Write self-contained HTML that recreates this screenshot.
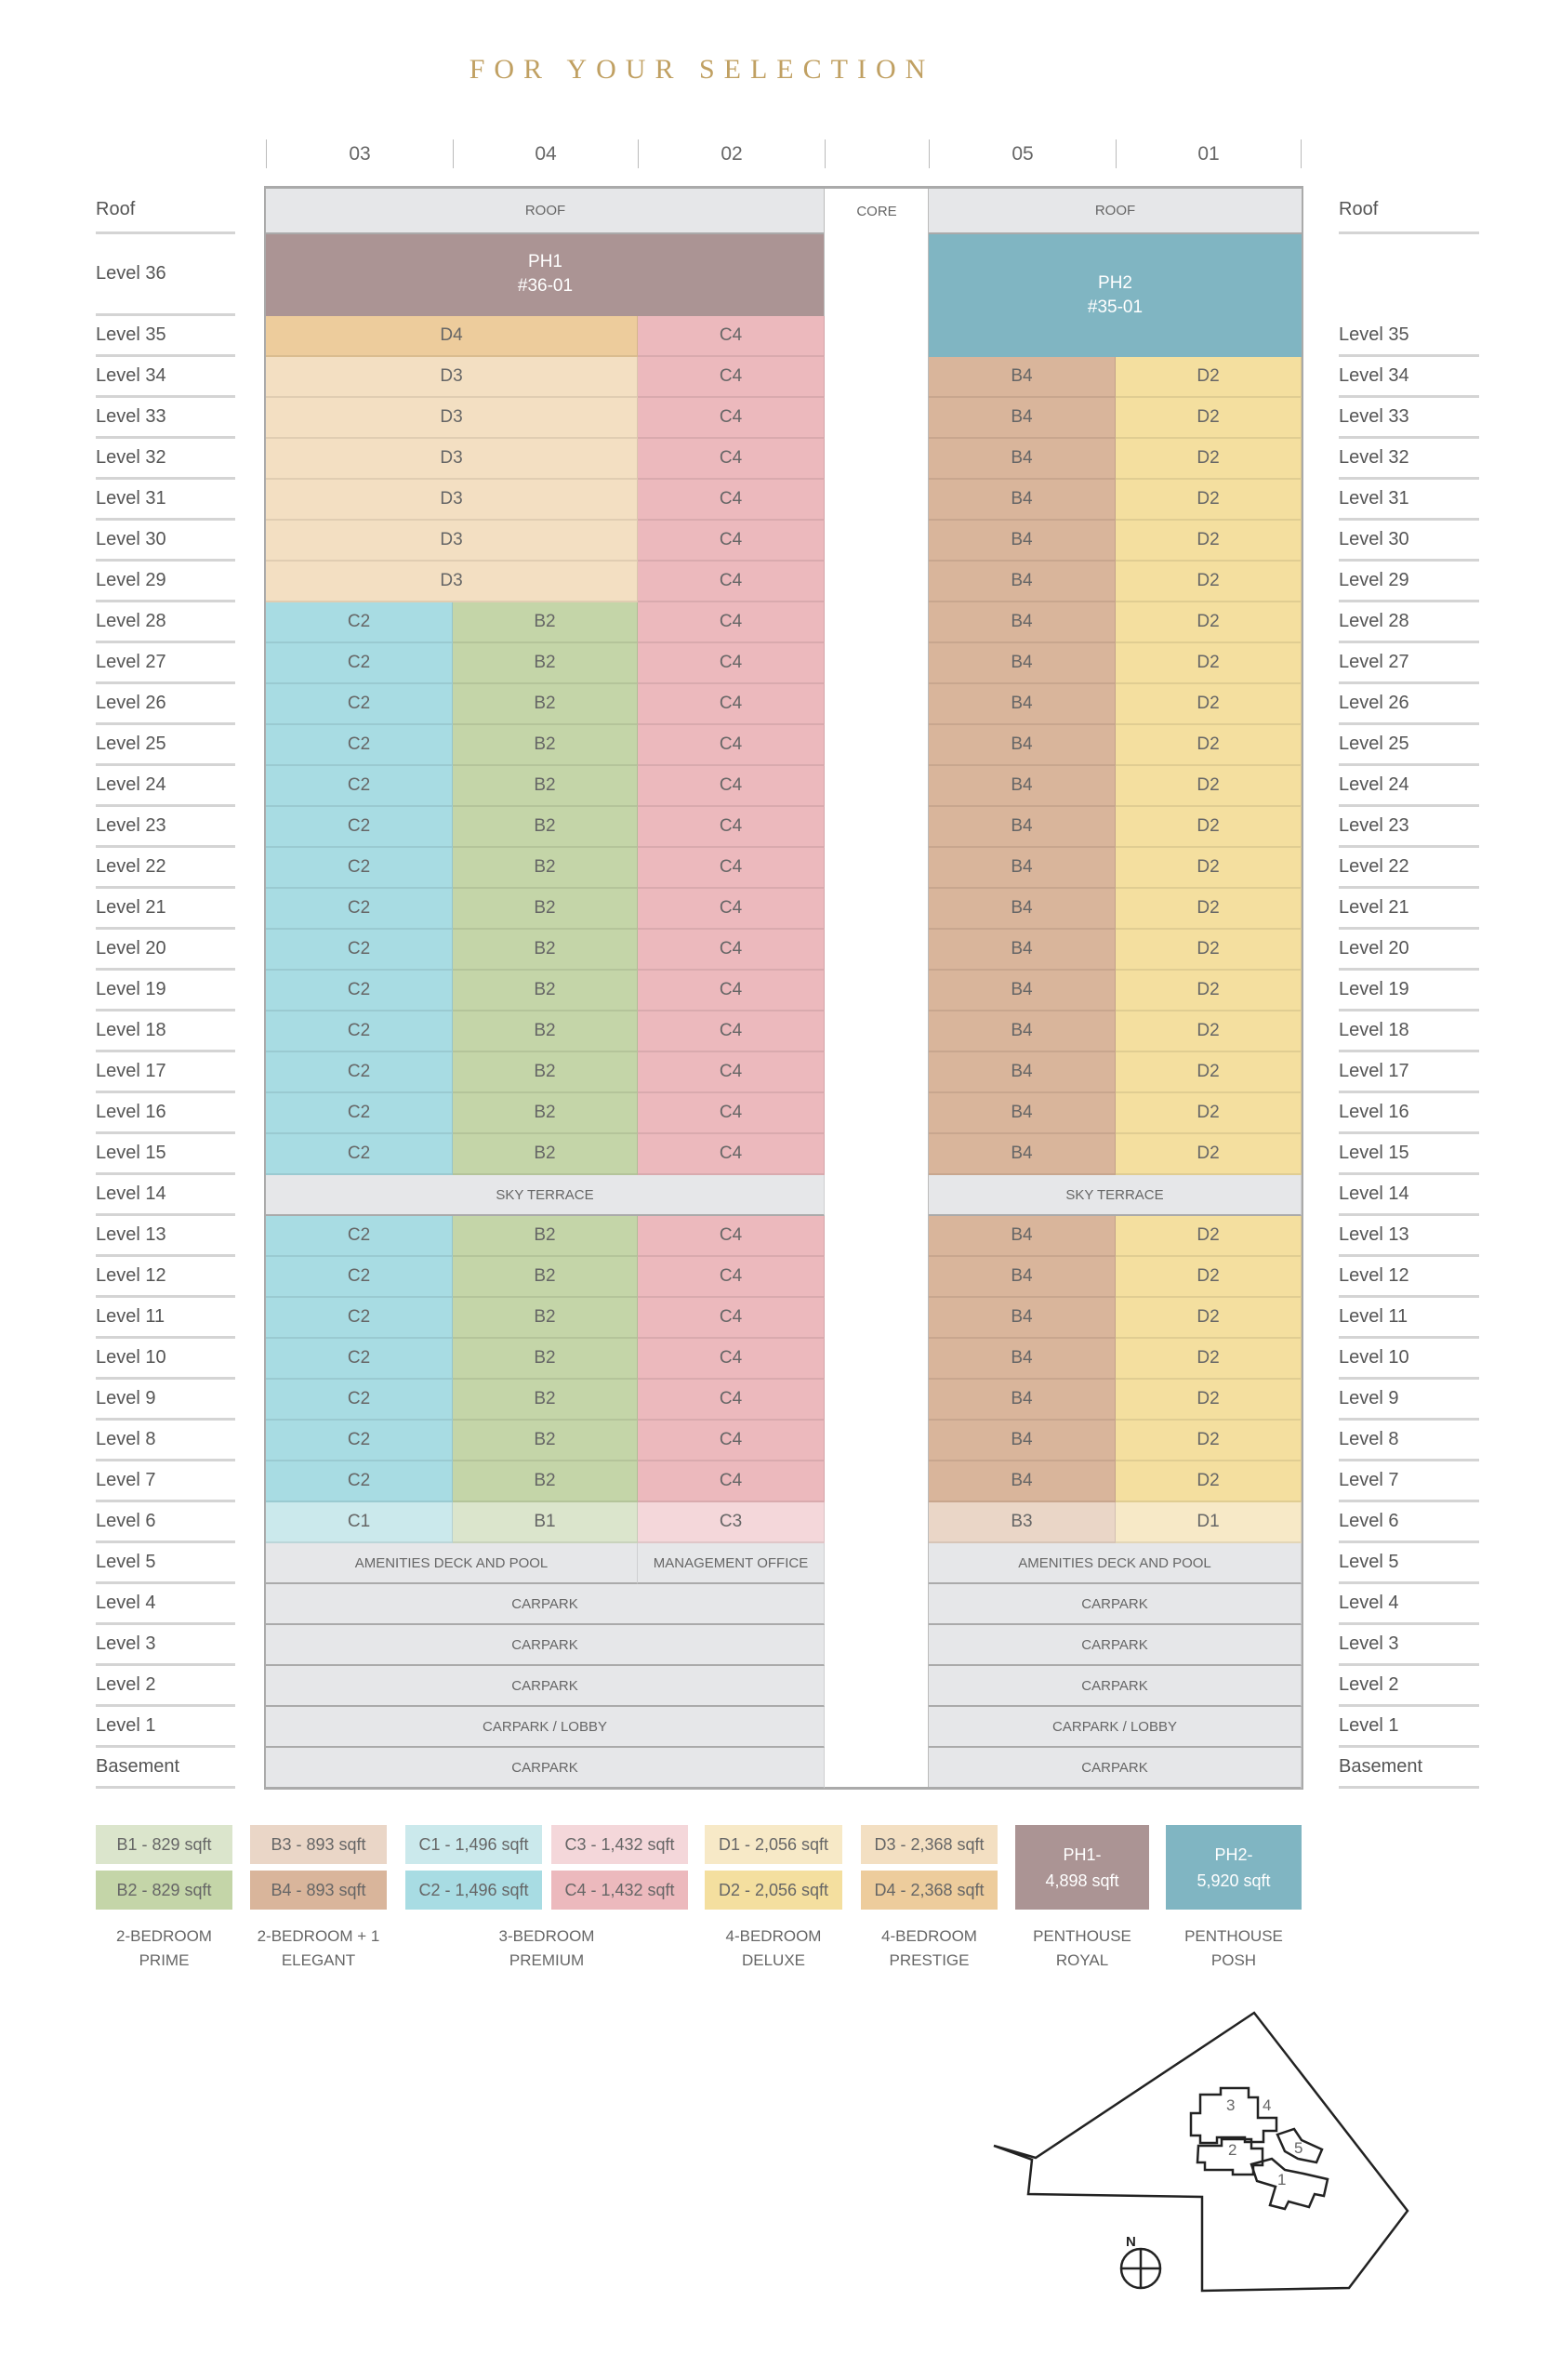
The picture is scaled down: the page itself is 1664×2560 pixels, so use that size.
<!DOCTYPE html>
<html><head><meta charset="utf-8"><style>
*{margin:0;padding:0;box-sizing:border-box}
body{width:1664px;height:2560px;background:#fff;position:relative;font-family:"Liberation Sans Narrow","Liberation Sans",sans-serif;color:#555;overflow:hidden}
.a{position:absolute}
.t{position:absolute;top:58px;left:0;width:1510px;text-align:center;font-family:"Liberation Serif",serif;font-size:30px;letter-spacing:10px;color:#c0a062}
.w{position:absolute;left:0;top:3px;width:1664px;height:2000px}
.hd{position:absolute;top:147px;height:31px;border-left:1px solid #bbb;font-size:21px;color:#666;text-align:center;line-height:31px}
.lb{position:absolute;left:103px;width:150px;border-bottom:3px solid #d4d4d4;font-size:20px;display:flex;align-items:center;color:#555}
.rb{position:absolute;left:1440px;width:151px;border-bottom:3px solid #d4d4d4;font-size:20px;display:flex;align-items:center;color:#555}
.g{position:absolute;display:grid;grid-auto-rows:44px}
.g i{font-style:normal;display:flex;align-items:center;justify-content:center;font-size:19px;color:#666;border-bottom:2px solid rgba(0,0,0,.08);border-right:1px solid rgba(0,0,0,.1)}
.L{grid-template-columns:201px 199px 201px;left:286px;width:601px}
.R{grid-template-columns:201px 200px;left:999px;width:401px}
.s{grid-column:1/-1}.s2{grid-column:1/3}
.gr{background:#e6e7e9;font-size:15px!important;color:#666!important;border-bottom:2px solid #aaa!important}
.D4{background:#edcc9c}.D3{background:#f3dfc2}.C4{background:#ecb9bd}.B4{background:#d9b59b}.D2{background:#f4df9f}.C2{background:#a8dce3}.B2{background:#c4d5a8}.C1{background:#cbe9ec}.B1{background:#dbe5cc}.C3{background:#f4d7da}.B3{background:#ead6c7}.D1{background:#f7e9c7}
.lg{position:absolute;height:42px;display:flex;align-items:center;justify-content:center;font-size:18px;color:#666}
.lt{position:absolute;top:2070px;text-align:center;font-size:17px;color:#666;line-height:26px}
</style></head><body>
<div class="t">FOR YOUR SELECTION</div>
<div class="w">
<div class="hd" style="left:286px;width:201px">03</div>
<div class="hd" style="left:487px;width:199px">04</div>
<div class="hd" style="left:686px;width:201px">02</div>
<div class="hd" style="left:887px;width:112px"></div>
<div class="hd" style="left:999px;width:201px">05</div>
<div class="hd" style="left:1200px;width:200px;border-right:1px solid #bbb">01</div>

<div class="a" style="left:284px;top:197px;width:1118px;height:3px;background:#aaa"></div>
<div class="a" style="left:286px;top:200px;width:601px;height:49px;background:#e6e7e9;border-bottom:2px solid #aaa;display:flex;align-items:center;justify-content:center;font-size:15px;color:#666">ROOF</div>
<div class="a" style="left:887px;top:200px;width:112px;height:49px;display:flex;align-items:center;justify-content:center;font-size:15px;color:#666">CORE</div>
<div class="a" style="left:999px;top:200px;width:401px;height:49px;background:#e6e7e9;border-bottom:2px solid #aaa;display:flex;align-items:center;justify-content:center;font-size:15px;color:#666">ROOF</div>
<div class="a" style="left:286px;top:249px;width:601px;height:88px;background:#ab9494;color:#fff;text-align:center;font-size:19px;line-height:26px;padding-top:17px">PH1<br>#36-01</div>
<div class="a" style="left:999px;top:249px;width:401px;height:132px;background:#80b5c2;color:#fff;text-align:center;font-size:19px;line-height:26px;padding-top:40px">PH2<br>#35-01</div>
<div class="a" style="left:284px;top:199px;width:2px;height:1722px;background:#aaa"></div>
<div class="a" style="left:1400px;top:199px;width:2px;height:1722px;background:#aaa"></div>
<div class="a" style="left:998px;top:200px;width:1px;height:1721px;background:#bbb"></div>
<div class="a" style="left:886px;top:200px;width:1px;height:1721px;background:#bbb"></div>
<div class="a" style="left:284px;top:1919px;width:1118px;height:3px;background:#aaa"></div>

<div class="g L" style="top:337px">
<i class="D4 s2">D4</i><i class="C4">C4</i>
<i class="D3 s2">D3</i><i class="C4">C4</i>
<i class="D3 s2">D3</i><i class="C4">C4</i>
<i class="D3 s2">D3</i><i class="C4">C4</i>
<i class="D3 s2">D3</i><i class="C4">C4</i>
<i class="D3 s2">D3</i><i class="C4">C4</i>
<i class="D3 s2">D3</i><i class="C4">C4</i>
<i class="C2">C2</i><i class="B2">B2</i><i class="C4">C4</i>
<i class="C2">C2</i><i class="B2">B2</i><i class="C4">C4</i>
<i class="C2">C2</i><i class="B2">B2</i><i class="C4">C4</i>
<i class="C2">C2</i><i class="B2">B2</i><i class="C4">C4</i>
<i class="C2">C2</i><i class="B2">B2</i><i class="C4">C4</i>
<i class="C2">C2</i><i class="B2">B2</i><i class="C4">C4</i>
<i class="C2">C2</i><i class="B2">B2</i><i class="C4">C4</i>
<i class="C2">C2</i><i class="B2">B2</i><i class="C4">C4</i>
<i class="C2">C2</i><i class="B2">B2</i><i class="C4">C4</i>
<i class="C2">C2</i><i class="B2">B2</i><i class="C4">C4</i>
<i class="C2">C2</i><i class="B2">B2</i><i class="C4">C4</i>
<i class="C2">C2</i><i class="B2">B2</i><i class="C4">C4</i>
<i class="C2">C2</i><i class="B2">B2</i><i class="C4">C4</i>
<i class="C2">C2</i><i class="B2">B2</i><i class="C4">C4</i>
<i class="gr s">SKY TERRACE</i>
<i class="C2">C2</i><i class="B2">B2</i><i class="C4">C4</i>
<i class="C2">C2</i><i class="B2">B2</i><i class="C4">C4</i>
<i class="C2">C2</i><i class="B2">B2</i><i class="C4">C4</i>
<i class="C2">C2</i><i class="B2">B2</i><i class="C4">C4</i>
<i class="C2">C2</i><i class="B2">B2</i><i class="C4">C4</i>
<i class="C2">C2</i><i class="B2">B2</i><i class="C4">C4</i>
<i class="C2">C2</i><i class="B2">B2</i><i class="C4">C4</i>
<i class="C1">C1</i><i class="B1">B1</i><i class="C3">C3</i>
<i class="gr s2">AMENITIES DECK AND POOL</i><i class="gr">MANAGEMENT OFFICE</i>
<i class="gr s">CARPARK</i>
<i class="gr s">CARPARK</i>
<i class="gr s">CARPARK</i>
<i class="gr s">CARPARK / LOBBY</i>
<i class="gr s">CARPARK</i>
</div>

<div class="g R" style="top:381px">
<i class="B4">B4</i><i class="D2">D2</i>
<i class="B4">B4</i><i class="D2">D2</i>
<i class="B4">B4</i><i class="D2">D2</i>
<i class="B4">B4</i><i class="D2">D2</i>
<i class="B4">B4</i><i class="D2">D2</i>
<i class="B4">B4</i><i class="D2">D2</i>
<i class="B4">B4</i><i class="D2">D2</i>
<i class="B4">B4</i><i class="D2">D2</i>
<i class="B4">B4</i><i class="D2">D2</i>
<i class="B4">B4</i><i class="D2">D2</i>
<i class="B4">B4</i><i class="D2">D2</i>
<i class="B4">B4</i><i class="D2">D2</i>
<i class="B4">B4</i><i class="D2">D2</i>
<i class="B4">B4</i><i class="D2">D2</i>
<i class="B4">B4</i><i class="D2">D2</i>
<i class="B4">B4</i><i class="D2">D2</i>
<i class="B4">B4</i><i class="D2">D2</i>
<i class="B4">B4</i><i class="D2">D2</i>
<i class="B4">B4</i><i class="D2">D2</i>
<i class="B4">B4</i><i class="D2">D2</i>
<i class="gr s">SKY TERRACE</i>
<i class="B4">B4</i><i class="D2">D2</i>
<i class="B4">B4</i><i class="D2">D2</i>
<i class="B4">B4</i><i class="D2">D2</i>
<i class="B4">B4</i><i class="D2">D2</i>
<i class="B4">B4</i><i class="D2">D2</i>
<i class="B4">B4</i><i class="D2">D2</i>
<i class="B4">B4</i><i class="D2">D2</i>
<i class="B3">B3</i><i class="D1">D1</i>
<i class="gr s">AMENITIES DECK AND POOL</i>
<i class="gr s">CARPARK</i>
<i class="gr s">CARPARK</i>
<i class="gr s">CARPARK</i>
<i class="gr s">CARPARK / LOBBY</i>
<i class="gr s">CARPARK</i>
</div>

<div class="lb" style="top:199px;height:50px">Roof</div>
<div class="lb" style="top:249px;height:88px">Level 36</div>
<div class="lb" style="top:337px;height:44px">Level 35</div>
<div class="lb" style="top:381px;height:44px">Level 34</div>
<div class="lb" style="top:425px;height:44px">Level 33</div>
<div class="lb" style="top:469px;height:44px">Level 32</div>
<div class="lb" style="top:513px;height:44px">Level 31</div>
<div class="lb" style="top:557px;height:44px">Level 30</div>
<div class="lb" style="top:601px;height:44px">Level 29</div>
<div class="lb" style="top:645px;height:44px">Level 28</div>
<div class="lb" style="top:689px;height:44px">Level 27</div>
<div class="lb" style="top:733px;height:44px">Level 26</div>
<div class="lb" style="top:777px;height:44px">Level 25</div>
<div class="lb" style="top:821px;height:44px">Level 24</div>
<div class="lb" style="top:865px;height:44px">Level 23</div>
<div class="lb" style="top:909px;height:44px">Level 22</div>
<div class="lb" style="top:953px;height:44px">Level 21</div>
<div class="lb" style="top:997px;height:44px">Level 20</div>
<div class="lb" style="top:1041px;height:44px">Level 19</div>
<div class="lb" style="top:1085px;height:44px">Level 18</div>
<div class="lb" style="top:1129px;height:44px">Level 17</div>
<div class="lb" style="top:1173px;height:44px">Level 16</div>
<div class="lb" style="top:1217px;height:44px">Level 15</div>
<div class="lb" style="top:1261px;height:44px">Level 14</div>
<div class="lb" style="top:1305px;height:44px">Level 13</div>
<div class="lb" style="top:1349px;height:44px">Level 12</div>
<div class="lb" style="top:1393px;height:44px">Level 11</div>
<div class="lb" style="top:1437px;height:44px">Level 10</div>
<div class="lb" style="top:1481px;height:44px">Level 9</div>
<div class="lb" style="top:1525px;height:44px">Level 8</div>
<div class="lb" style="top:1569px;height:44px">Level 7</div>
<div class="lb" style="top:1613px;height:44px">Level 6</div>
<div class="lb" style="top:1657px;height:44px">Level 5</div>
<div class="lb" style="top:1701px;height:44px">Level 4</div>
<div class="lb" style="top:1745px;height:44px">Level 3</div>
<div class="lb" style="top:1789px;height:44px">Level 2</div>
<div class="lb" style="top:1833px;height:44px">Level 1</div>
<div class="lb" style="top:1877px;height:44px">Basement</div>

<div class="rb" style="top:199px;height:50px">Roof</div>
<div class="rb" style="top:337px;height:44px">Level 35</div>
<div class="rb" style="top:381px;height:44px">Level 34</div>
<div class="rb" style="top:425px;height:44px">Level 33</div>
<div class="rb" style="top:469px;height:44px">Level 32</div>
<div class="rb" style="top:513px;height:44px">Level 31</div>
<div class="rb" style="top:557px;height:44px">Level 30</div>
<div class="rb" style="top:601px;height:44px">Level 29</div>
<div class="rb" style="top:645px;height:44px">Level 28</div>
<div class="rb" style="top:689px;height:44px">Level 27</div>
<div class="rb" style="top:733px;height:44px">Level 26</div>
<div class="rb" style="top:777px;height:44px">Level 25</div>
<div class="rb" style="top:821px;height:44px">Level 24</div>
<div class="rb" style="top:865px;height:44px">Level 23</div>
<div class="rb" style="top:909px;height:44px">Level 22</div>
<div class="rb" style="top:953px;height:44px">Level 21</div>
<div class="rb" style="top:997px;height:44px">Level 20</div>
<div class="rb" style="top:1041px;height:44px">Level 19</div>
<div class="rb" style="top:1085px;height:44px">Level 18</div>
<div class="rb" style="top:1129px;height:44px">Level 17</div>
<div class="rb" style="top:1173px;height:44px">Level 16</div>
<div class="rb" style="top:1217px;height:44px">Level 15</div>
<div class="rb" style="top:1261px;height:44px">Level 14</div>
<div class="rb" style="top:1305px;height:44px">Level 13</div>
<div class="rb" style="top:1349px;height:44px">Level 12</div>
<div class="rb" style="top:1393px;height:44px">Level 11</div>
<div class="rb" style="top:1437px;height:44px">Level 10</div>
<div class="rb" style="top:1481px;height:44px">Level 9</div>
<div class="rb" style="top:1525px;height:44px">Level 8</div>
<div class="rb" style="top:1569px;height:44px">Level 7</div>
<div class="rb" style="top:1613px;height:44px">Level 6</div>
<div class="rb" style="top:1657px;height:44px">Level 5</div>
<div class="rb" style="top:1701px;height:44px">Level 4</div>
<div class="rb" style="top:1745px;height:44px">Level 3</div>
<div class="rb" style="top:1789px;height:44px">Level 2</div>
<div class="rb" style="top:1833px;height:44px">Level 1</div>
<div class="rb" style="top:1877px;height:44px">Basement</div>
</div>

<div class="lg B1" style="left:103px;top:1963px;width:147px">B1 - 829 sqft</div>
<div class="lg B2" style="left:103px;top:2012px;width:147px">B2 - 829 sqft</div>
<div class="lg B3" style="left:269px;top:1963px;width:147px">B3 - 893 sqft</div>
<div class="lg B4" style="left:269px;top:2012px;width:147px">B4 - 893 sqft</div>
<div class="lg C1" style="left:436px;top:1963px;width:147px">C1 - 1,496 sqft</div>
<div class="lg C2" style="left:436px;top:2012px;width:147px">C2 - 1,496 sqft</div>
<div class="lg C3" style="left:593px;top:1963px;width:147px">C3 - 1,432 sqft</div>
<div class="lg C4" style="left:593px;top:2012px;width:147px">C4 - 1,432 sqft</div>
<div class="lg D1" style="left:758px;top:1963px;width:148px">D1 - 2,056 sqft</div>
<div class="lg D2" style="left:758px;top:2012px;width:148px">D2 - 2,056 sqft</div>
<div class="lg D3" style="left:926px;top:1963px;width:147px">D3 - 2,368 sqft</div>
<div class="lg D4" style="left:926px;top:2012px;width:147px">D4 - 2,368 sqft</div>
<div class="lg" style="left:1092px;top:1963px;width:144px;height:91px;background:#ab9494;color:#fff;text-align:center;line-height:28px">PH1-<br>4,898 sqft</div>
<div class="lg" style="left:1254px;top:1963px;width:146px;height:91px;background:#80b5c2;color:#fff;text-align:center;line-height:28px">PH2-<br>5,920 sqft</div>

<div class="lt" style="left:103px;width:147px">2-BEDROOM<br>PRIME</div>
<div class="lt" style="left:263px;width:159px">2-BEDROOM + 1<br>ELEGANT</div>
<div class="lt" style="left:436px;width:304px">3-BEDROOM<br>PREMIUM</div>
<div class="lt" style="left:758px;width:148px">4-BEDROOM<br>DELUXE</div>
<div class="lt" style="left:926px;width:147px">4-BEDROOM<br>PRESTIGE</div>
<div class="lt" style="left:1092px;width:144px">PENTHOUSE<br>ROYAL</div>
<div class="lt" style="left:1254px;width:146px">PENTHOUSE<br>POSH</div>

<svg class="a" style="left:0;top:0" width="1664" height="2560">
<g transform="translate(6,8)">
<g fill="none" stroke="#222" stroke-width="2.5">
<path d="M1063 2300 L1108 2313 L1343 2157 L1508 2370 L1445 2453 L1287 2456 L1287 2355 L1100 2352 L1104 2315 L1063 2300 Z"/>
<path d="M1285 2245 h22 v-7 h30 v10 h10 v22 h20 v14 h-14 v12 h-20 v-5 h-30 v6 h-18 v-8 h-10 v-24 h10 z"/>
<path d="M1283 2300 h25 v-7 h32 v10 h12 v18 h-10 v10 h-22 v-5 h-30 v-8 h-8 z"/>
<path d="M1340 2320 l22 -6 l14 12 l20 4 l26 6 l-4 18 l-10 -2 l-6 14 l-22 -6 l-4 8 l-16 -4 l6 -20 l-20 -6 z"/>
<path d="M1368 2288 l18 -6 l8 12 l22 10 l-6 14 l-20 -4 l-14 -8 z"/>
<circle cx="1221" cy="2432" r="21"/><path d="M1200 2432 h42 M1221 2411 v42"/>
</g>
<g font-family="Liberation Sans Narrow,Liberation Sans,sans-serif" font-size="17" fill="#666">
<text x="1313" y="2262">3</text><text x="1352" y="2262">4</text><text x="1315" y="2310">2</text><text x="1386" y="2308">5</text><text x="1368" y="2342">1</text>
<text x="1205" y="2408" font-size="15" fill="#222" font-weight="bold">N</text>
</g>
</g>
</svg>
</body></html>
